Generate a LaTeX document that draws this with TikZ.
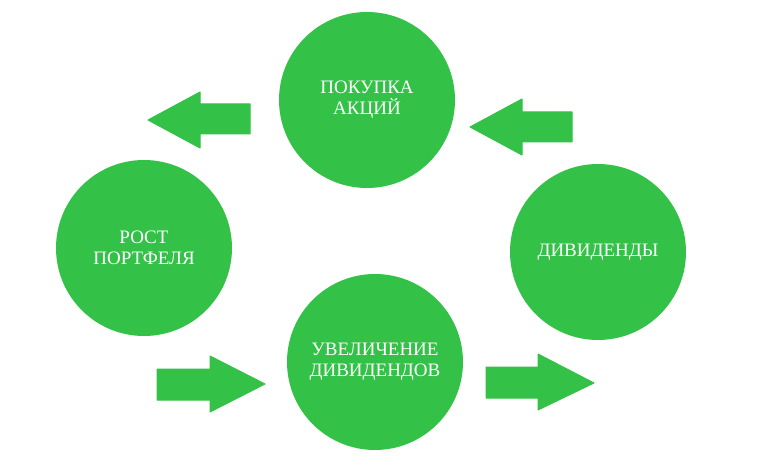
\documentclass[tikz,border=0pt]{standalone}
\usepackage{fontspec}
\setmainfont{Liberation Serif}
\definecolor{grn}{HTML}{33C247}
\begin{document}
\begin{tikzpicture}[x=1pt,y=-1pt,
  circ/.style={circle,fill=grn,minimum size=176pt,inner sep=0pt,text=white,font=\fontsize{19}{21}\selectfont,align=center},
  arr/.style={fill=grn,draw=grn,line join=round,line width=1pt}]
\useasboundingbox (0,0) rectangle (769,473);
\node[circ] (buy) at (367,100) {ПОКУПКА\\АКЦИЙ};
\node[circ] (grow) at (144,248) {РОСТ\\ПОРТФЕЛЯ};
\node[circ] (div) at (598,252) {ДИВИДЕНДЫ};
\node[circ] (inc) at (375,362) {УВЕЛИЧЕНИЕ\\ДИВИДЕНДОВ};
% left-pointing arrows
\fill[arr] (250,104) -- (200,104) -- (200,92) -- (148,120) -- (200,148) -- (200,134) -- (250,134) -- cycle;
\fill[arr] (572,112) -- (522,112) -- (522,99) -- (470,127) -- (522,155) -- (522,142) -- (572,142) -- cycle;
% right-pointing arrows
\fill[arr] (157,369) -- (210,369) -- (210,356) -- (265,384) -- (210,412) -- (210,400) -- (157,400) -- cycle;
\fill[arr] (486,367) -- (538,367) -- (538,354) -- (594,383) -- (538,410) -- (538,398) -- (486,398) -- cycle;
\end{tikzpicture}
\end{document}
